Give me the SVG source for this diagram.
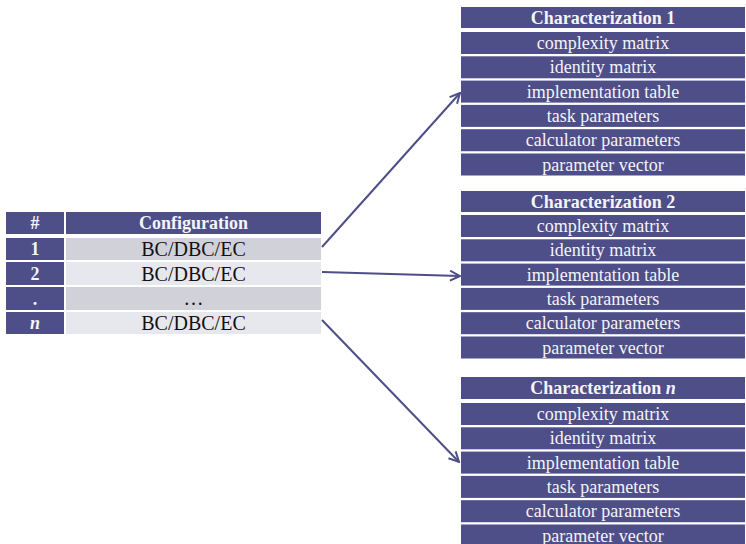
<svg xmlns="http://www.w3.org/2000/svg" width="746" height="544" viewBox="0 0 746 544">
  <style>
    .hd { fill: #4e4e88; }
    .ga { fill: #d1d1da; }
    .gb { fill: #e7e7ee; }
    .wt { font-family: "Liberation Serif", "Times New Roman", serif; font-size: 18px; fill: #f4f4fa; text-anchor: middle; }
    .bd { font-weight: bold; }
    .bk { font-family: "Liberation Serif", "Times New Roman", serif; font-size: 20px; fill: #111; text-anchor: middle; }
    .num { font-family: "Liberation Serif", "Times New Roman", serif; font-size: 18px; font-weight: bold; fill: #f4f4fa; text-anchor: middle; }
    .link { stroke: #4e4e88; stroke-width: 2; fill: none; }
  </style>
  <defs>
    <marker id="arr" viewBox="0 0 12 12" refX="11" refY="6" markerWidth="12" markerHeight="12" markerUnits="userSpaceOnUse" orient="auto">
      <path d="M1,1 L11,6 L1,11" stroke="#4e4e88" stroke-width="2" fill="none"/>
    </marker>
  </defs>
  <rect width="746" height="544" fill="#ffffff"/>

  <!-- configuration table -->
  <g id="config-table">
    <rect class="hd" x="6" y="212" width="58" height="22"/>
    <rect class="hd" x="66" y="212" width="255" height="22"/>
    <text class="num" x="35" y="229">#</text>
    <text class="wt bd" x="193.5" y="229">Configuration</text>

    <rect class="hd" x="6" y="238" width="58" height="22"/>
    <rect class="ga" x="66" y="238" width="255" height="22"/>
    <text class="num" x="35" y="255">1</text>
    <text class="bk" x="193.5" y="256">BC/DBC/EC</text>

    <rect class="hd" x="6" y="262" width="58" height="23"/>
    <rect class="gb" x="66" y="262" width="255" height="23"/>
    <text class="num" x="35" y="280">2</text>
    <text class="bk" x="193.5" y="280.5">BC/DBC/EC</text>

    <rect class="hd" x="6" y="287" width="58" height="23"/>
    <rect class="ga" x="66" y="287" width="255" height="23"/>
    <text class="num" x="35" y="305">.</text>
    <text class="bk" x="193.5" y="305">…</text>

    <rect class="hd" x="6" y="312" width="58" height="22"/>
    <rect class="gb" x="66" y="312" width="255" height="22"/>
    <text class="num" x="35" y="329" font-style="italic">n</text>
    <text class="bk" x="193.5" y="330">BC/DBC/EC</text>
  </g>

  <!-- characterization 1 -->
  <g id="char-1">
    <rect class="hd" x="461" y="7" width="284" height="21"/>
    <text class="wt bd" x="603" y="23.5">Characterization 1</text>
    <rect class="hd" x="461" y="32" width="284" height="22"/>
    <text class="wt" x="603" y="49">complexity matrix</text>
    <rect class="hd" x="461" y="56.3" width="284" height="22"/>
    <text class="wt" x="603" y="73.3">identity matrix</text>
    <rect class="hd" x="461" y="80.6" width="284" height="22"/>
    <text class="wt" x="603" y="97.6">implementation table</text>
    <rect class="hd" x="461" y="104.9" width="284" height="22"/>
    <text class="wt" x="603" y="121.9">task parameters</text>
    <rect class="hd" x="461" y="129.2" width="284" height="22"/>
    <text class="wt" x="603" y="146.2">calculator parameters</text>
    <rect class="hd" x="461" y="153.5" width="284" height="22"/>
    <text class="wt" x="603" y="170.5">parameter vector</text>
  </g>

  <!-- characterization 2 -->
  <g id="char-2">
    <rect class="hd" x="461" y="191" width="284" height="21"/>
    <text class="wt bd" x="603" y="207.5">Characterization 2</text>
    <rect class="hd" x="461" y="215" width="284" height="22"/>
    <text class="wt" x="603" y="232">complexity matrix</text>
    <rect class="hd" x="461" y="239.3" width="284" height="22"/>
    <text class="wt" x="603" y="256.3">identity matrix</text>
    <rect class="hd" x="461" y="263.6" width="284" height="22"/>
    <text class="wt" x="603" y="280.6">implementation table</text>
    <rect class="hd" x="461" y="287.9" width="284" height="22"/>
    <text class="wt" x="603" y="304.9">task parameters</text>
    <rect class="hd" x="461" y="312.2" width="284" height="22"/>
    <text class="wt" x="603" y="329.2">calculator parameters</text>
    <rect class="hd" x="461" y="336.5" width="284" height="22"/>
    <text class="wt" x="603" y="353.5">parameter vector</text>
  </g>

  <!-- characterization n -->
  <g id="char-n">
    <rect class="hd" x="461" y="377" width="284" height="22"/>
    <text class="wt bd" x="603" y="394">Characterization <tspan font-style="italic">n</tspan></text>
    <rect class="hd" x="461" y="403" width="284" height="22"/>
    <text class="wt" x="603" y="420">complexity matrix</text>
    <rect class="hd" x="461" y="427.3" width="284" height="22"/>
    <text class="wt" x="603" y="444.3">identity matrix</text>
    <rect class="hd" x="461" y="451.6" width="284" height="22"/>
    <text class="wt" x="603" y="468.6">implementation table</text>
    <rect class="hd" x="461" y="475.9" width="284" height="22"/>
    <text class="wt" x="603" y="492.9">task parameters</text>
    <rect class="hd" x="461" y="500.2" width="284" height="22"/>
    <text class="wt" x="603" y="517.2">calculator parameters</text>
    <rect class="hd" x="461" y="524.5" width="284" height="22"/>
    <text class="wt" x="603" y="541.5">parameter vector</text>
  </g>

  <!-- connectors -->
  <g id="connectors">
    <line class="link" x1="322" y1="247" x2="460" y2="93" marker-end="url(#arr)"/>
    <line class="link" x1="322" y1="272" x2="460" y2="276" marker-end="url(#arr)"/>
    <line class="link" x1="322" y1="320" x2="459" y2="462" marker-end="url(#arr)"/>
  </g>
</svg>
